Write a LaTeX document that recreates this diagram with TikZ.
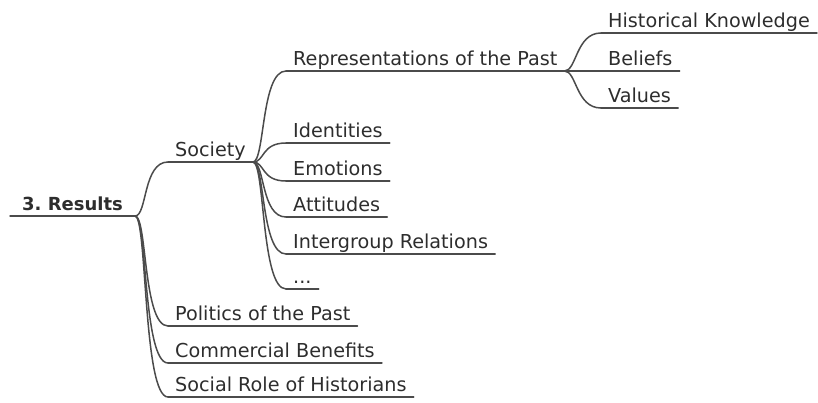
\documentclass[tikz,border=0pt]{standalone}
\usepackage{fontspec}
\setmainfont{DejaVu Sans}
\definecolor{inkgray}{RGB}{45,45,45}
\definecolor{linegray}{RGB}{75,75,75}

\begin{document}
\frenchspacing
\begin{tikzpicture}[x=1pt,y=-1pt,
    topic/.style={anchor=south west, inner xsep=7pt, inner ysep=0pt, text depth=5.5pt,
      text=inkgray, font=\fontsize{19.2}{22}\selectfont},
    branch/.style={draw=linegray, line width=1.5pt, line cap=round}]
  \useasboundingbox (0,0) rectangle (818,402);

  \node[topic, inner xsep=12pt, font=\fontsize{18}{22}\selectfont\bfseries] (results) at (10,216) {3. Results};
  \node[topic] (society) at (168,162) {Society};
  \node[topic] (politics) at (168,326) {Politics of the Past};
  \node[topic] (commercial) at (168,363) {Commercial Benefits};
  \node[topic] (historians) at (168,397) {Social Role of Historians};

  \node[topic] (reps) at (286,71) {Representations of the Past};
  \node[topic] (identities) at (286,143) {Identities};
  \node[topic] (emotions) at (286,181) {Emotions};
  \node[topic] (attitudes) at (286,217) {Attitudes};
  \node[topic] (relations) at (286,254) {Intergroup Relations};
  \node[topic] (more) at (286,289) {...};

  \node[topic] (knowledge) at (601,33) {Historical Knowledge};
  \node[topic] (beliefs) at (601,71) {Beliefs};
  \node[topic] (values) at (601,108) {Values};

  \foreach \n in {results,society,politics,commercial,historians,reps,identities,
      emotions,attitudes,relations,more,knowledge,beliefs,values}
    \draw[branch] (\n.south west) -- (\n.south east);

  \foreach \c in {society,politics,commercial,historians}
    \draw[branch] (results.south east) .. controls +(12,0) and +(-25,0) .. (\c.south west);
  \foreach \c in {reps,identities,emotions,attitudes,relations,more}
    \draw[branch] (society.south east) .. controls +(12,0) and +(-25,0) .. (\c.south west);
  \foreach \c in {knowledge,beliefs,values}
    \draw[branch] (reps.south east) .. controls +(12,0) and +(-25,0) .. (\c.south west);
\end{tikzpicture}
\end{document}
